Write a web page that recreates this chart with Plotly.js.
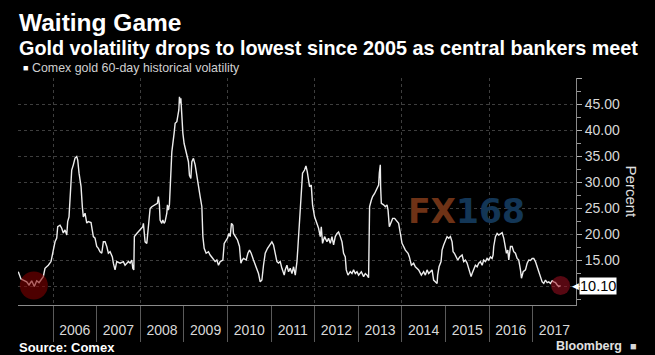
<!DOCTYPE html>
<html><head><meta charset="utf-8">
<script src="https://cdn.plot.ly/plotly-3.0.1.min.js"></script>
<style>html,body{margin:0;padding:0;background:#000;} #chart{width:655px;height:355px;}</style>
</head><body><div id="chart"></div>
<script>
// Comex gold 60-day historical volatility (decimal year, percent)
const years = [
 2005.203,2005.265,2005.318,2005.396,2005.449,2005.511,2005.571,2005.626,2005.679,2005.741,
 2005.777,2005.816,2005.892,2005.954,2006.007,2006.046,2006.085,2006.108,2006.161,2006.2,
 2006.236,2006.275,2006.315,2006.337,2006.367,2006.39,2006.429,2006.466,2006.505,2006.544,
 2006.567,2006.597,2006.643,2006.673,2006.696,2006.735,2006.774,2006.81,2006.872,2006.925,
 2006.964,2007.003,2007.04,2007.079,2007.118,2007.155,2007.194,2007.233,2007.27,2007.309,
 2007.361,2007.384,2007.423,2007.462,2007.538,2007.614,2007.653,2007.729,2007.768,2007.807,
 2007.83,2007.853,2007.866,2007.922,2007.997,2008.059,2008.073,2008.112,2008.151,2008.188,
 2008.211,2008.227,2008.266,2008.342,2008.394,2008.417,2008.44,2008.456,2008.495,2008.518,
 2008.548,2008.571,2008.61,2008.624,2008.647,2008.67,2008.702,2008.725,2008.778,2008.801,
 2008.84,2008.853,2008.886,2008.9,2008.916,2008.932,2008.955,2008.978,2009.007,2009.053,
 2009.083,2009.106,2009.129,2009.161,2009.184,2009.221,2009.26,2009.299,2009.336,2009.375,
 2009.414,2009.437,2009.467,2009.512,2009.565,2009.604,2009.666,2009.719,2009.758,2009.795,
 2009.834,2009.896,2009.926,2009.972,2010.001,2010.034,2010.063,2010.093,2010.125,2010.139,
 2010.178,2010.231,2010.277,2010.309,2010.339,2010.369,2010.431,2010.47,2010.507,2010.545,
 2010.598,2010.66,2010.713,2010.752,2010.791,2010.828,2010.867,2010.92,2010.982,2011.02,
 2011.057,2011.096,2011.135,2011.172,2011.211,2011.25,2011.303,
 2011.326,2011.365,2011.402,2011.441,2011.48,2011.517,2011.556,2011.595,2011.618,2011.647,
 2011.67,2011.693,2011.723,2011.769,2011.801,2011.831,2011.861,2011.884,2011.923,2011.953,
 2011.999,2012.054,2012.091,2012.13,2012.153,2012.182,2012.228,2012.283,2012.32,2012.359,
 2012.398,2012.435,2012.474,2012.513,2012.55,2012.589,2012.628,2012.664,2012.703,2012.726,
 2012.765,2012.818,2012.857,2012.894,2012.933,2012.972,2013.009,2013.071,2013.124,2013.163,2013.202,2013.238,
 2013.261,2013.3,2013.33,2013.376,2013.431,2013.468,2013.484,2013.507,2013.514,2013.53,
 2013.583,2013.622,2013.661,2013.684,2013.714,2013.76,2013.79,2013.835,2013.89,2013.927,2013.966,
 2014.005,2014.042,2014.081,2014.143,2014.173,2014.219,2014.271,2014.31,2014.386,2014.448,
 2014.5,2014.54,2014.579,2014.616,2014.655,2014.694,2014.73,2014.77,2014.809,2014.822,
 2014.854,2014.9,2014.923,2014.96,2014.999,2015.038,2015.075,2015.114,2015.153,2015.176,
 2015.206,2015.252,2015.282,2015.328,2015.383,2015.42,2015.459,2015.497,2015.534,2015.589,
 2015.612,2015.649,2015.688,2015.727,2015.764,2015.803,2015.842,2015.878,2015.917,2015.956,
 2015.993,2016.032,2016.071,2016.094,2016.108,2016.147,2016.186,2016.223,2016.262,2016.301,
 2016.338,2016.377,2016.4,2016.43,2016.453,2016.492,2016.53,2016.567,2016.606,2016.645,
 2016.682,2016.721,2016.744,2016.783,2016.836,2016.875,2016.912,2016.951,2016.99,2017.026,
 2017.065,2017.104,2017.141,2017.18,2017.219,2017.256,2017.295,2017.334,2017.371,2017.41,
 2017.449,2017.486,2017.525,2017.564,2017.601,2017.64
];
const vol = [
 12.75,11.35,11.15,10.8,10.2,11.0,9.9,11.0,10.65,11.5,
 11.8,13.4,14.0,14.7,17.2,18.5,19.2,21.4,21.7,21.1,
 20.2,20.8,19.8,22.4,23.3,27.2,32.3,33.3,34.6,34.9,
 34.2,31.7,29.1,25.2,23.3,24.0,22.1,22.4,22.2,19.5,
 19.2,17.6,17.25,16.6,16.3,18.5,18.5,17.6,16.3,16.6,
 15.6,14.4,13.1,14.7,14.4,14.7,14.0,14.7,14.4,15.0,
 13.4,13.1,19.5,20.1,20.8,21.4,22.05,18.5,18.2,22.05,
 24.9,24.9,25.25,25.6,25.9,27.2,25.6,22.7,22.05,22.7,
 22.05,22.4,24.0,25.6,24.6,25.6,30.4,35.8,39.4,41.3,
 41.6,42.6,43.85,46.4,45.1,46.1,42.6,39.4,37.4,35.8,
 34.9,33.9,31.3,30.7,33.9,34.55,33.3,31.0,29.1,27.2,
 25.25,19.5,17.25,16.3,16.6,15.96,15.3,14.7,15.0,14.0,
 14.7,15.0,18.2,18.85,19.2,20.1,19.5,22.05,21.7,20.1,
 19.5,18.85,17.6,14.4,15.0,15.3,15.0,16.3,16.9,16.3,
 15.0,13.7,12.4,10.8,11.15,14.0,16.3,17.25,18.2,18.5,
 17.9,16.3,14.7,14.4,14.7,13.4,12.1,
 13.1,14.0,12.75,13.4,12.4,13.7,12.1,14.7,17.6,22.05,
 24.6,29.1,31.7,32.3,33.1,32.0,30.4,29.1,29.4,25.6,
 23.3,22.05,21.1,19.5,21.4,18.2,19.5,18.5,19.2,18.2,
 19.5,17.9,19.5,20.1,20.4,19.5,18.5,16.3,15.6,13.1,
 12.1,12.75,12.4,13.1,12.4,12.75,12.1,12.75,11.8,12.4,12.1,11.6,
 25.25,26.5,27.2,27.8,28.8,29.4,31.7,33.3,29.1,25.9,
 25.6,25.25,25.6,24.6,21.4,22.4,23.0,23.0,22.4,22.05,20.1,
 18.2,17.6,16.9,16.3,15.6,14.0,14.4,13.7,13.1,12.1,
 12.75,12.1,13.1,12.4,12.75,13.1,11.15,10.8,10.5,12.1,
 13.7,14.7,16.9,17.9,18.8,19.5,19.2,19.5,18.5,16.6,
 16.3,15.6,15.0,15.6,15.96,14.7,15.0,14.4,13.4,11.8,
 12.4,13.4,14.0,13.7,14.4,14.7,14.0,15.0,14.7,15.3,
 15.0,15.6,15.3,16.0,17.6,19.5,20.1,19.8,20.1,20.25,
 19.2,17.6,16.3,16.9,15.0,17.6,17.6,16.6,16.3,15.3,
 15.0,13.1,11.5,12.75,13.1,14.4,15.0,14.9,15.3,15.3,
 14.7,13.7,12.75,12.1,10.8,10.5,11.15,10.65,10.8,10.5,
 11.0,10.8,10.65,10.2,9.9,10.1
];
const yearLabels = ['2006','2007','2008','2009','2010','2011','2012','2013','2014','2015','2016','2017'];
const highlightX = [2005.56, 2017.64];
const highlightY = [10.1, 10.1];
const yTicks = [10,15,20,25,30,35,40,45,50];

// layout helpers (plot area in pixels: left 18, right 575.6, top 78, bottom 305)
const PL = 18, PR = 575.6, PT = 78, PB = 305;
const px = p => (p - PL) / (PR - PL);
const py = p => (PB - p) / (PB - PT);

const lastVal = vol[vol.length - 1];
const labelPos = yearLabels.map(y => +y + 0.5);
const FONT = 'Liberation Sans, Arial, sans-serif';

const traces = [
  {x: years, y: vol, type: 'scatter', mode: 'lines',
   line: {color: '#ededed', width: 1.4}, hoverinfo: 'skip', showlegend: false},
  {x: highlightX, y: highlightY, type: 'scatter', mode: 'markers', xaxis: 'x2',
   marker: {size: [28, 19], color: ['rgba(135,0,0,0.82)', 'rgba(165,15,35,0.75)'], line: {width: 0}},
   hoverinfo: 'skip', showlegend: false}
];

const layout = {
  width: 655, height: 355,
  paper_bgcolor: '#000', plot_bgcolor: '#000',
  margin: {l: PL, r: 655 - PR, t: PT, b: 355 - PB, pad: 0},
  font: {family: FONT, color: '#d8d8d8', size: 14},
  showlegend: false,
  xaxis: {
    type: 'linear', range: [2005.197, 2017.995],
    tickmode: 'linear', tick0: 2006, dtick: 2, showticklabels: false,
    ticks: 'outside', ticklen: 36, tickcolor: '#5a5a5a', tickwidth: 1,
    showgrid: true, gridcolor: '#3e3e3e', griddash: 'dot', gridwidth: 1,
    showline: true, linecolor: '#8a8a8a', linewidth: 1, zeroline: false,
    minor: {tickmode: 'linear', tick0: 2006, dtick: 1, ticks: 'outside', ticklen: 36,
            tickcolor: '#5a5a5a', showgrid: false},
    fixedrange: true
  },
  xaxis2: {
    overlaying: 'x', matches: 'x', side: 'bottom', anchor: 'y',
    tickmode: 'array', tickvals: labelPos, ticktext: yearLabels,
    ticks: 'outside', ticklen: 12, tickcolor: 'rgba(0,0,0,0)',
    showgrid: false, showline: false, zeroline: false,
    tickfont: {family: FONT, size: 14, color: '#d8d8d8'}
  },
  yaxis: {
    side: 'right', range: [6.35, 50],
    tickmode: 'array', tickvals: yTicks,
    ticktext: yTicks.map(v => (v === 10 || v === 50) ? '' : v.toFixed(2)),
    ticks: 'outside', ticklen: 5, tickcolor: '#b0b0b0',
    showgrid: true, gridcolor: '#3e3e3e', griddash: 'dot', gridwidth: 1,
    showline: true, linecolor: '#8a8a8a', linewidth: 1, zeroline: false,
    minor: {tickmode: 'linear', tick0: 0, dtick: 2.5, ticks: 'outside', ticklen: 4,
            tickcolor: '#9a9a9a', showgrid: false},
    tickfont: {family: FONT, size: 14, color: '#d8d8d8'},
    fixedrange: true
  },
  annotations: [
    {text: '<b>Waiting Game</b>', xref: 'paper', yref: 'paper', x: px(17), y: py(22),
     xanchor: 'left', yanchor: 'middle', showarrow: false,
     font: {family: FONT, size: 24.5, color: '#ffffff'}},
    {text: '<b>Gold volatility drops to lowest since 2005 as central bankers meet</b>',
     xref: 'paper', yref: 'paper', x: px(17), y: py(48), xanchor: 'left', yanchor: 'middle',
     showarrow: false, font: {family: FONT, size: 19.8, color: '#ffffff'}},
    {text: '■', xref: 'paper', yref: 'paper', x: px(21), y: py(68), xanchor: 'left', yanchor: 'middle',
     showarrow: false, font: {family: FONT, size: 9, color: '#ffffff'}},
    {text: 'Comex gold 60-day historical volatility', xref: 'paper', yref: 'paper', x: px(30), y: py(68),
     xanchor: 'left', yanchor: 'middle', showarrow: false,
     font: {family: FONT, size: 12.4, color: '#d0d0d0'}},
    {text: '<b>Source: Comex</b>', xref: 'paper', yref: 'paper', x: px(17), y: py(347),
     xanchor: 'left', yanchor: 'middle', showarrow: false,
     font: {family: FONT, size: 13, color: '#ffffff'}},
    {text: '<b>Bloomberg</b>', xref: 'paper', yref: 'paper', x: px(624), y: py(346),
     xanchor: 'right', yanchor: 'middle', showarrow: false,
     font: {family: FONT, size: 12.5, color: '#e0e0e0'}},
    {text: '■', xref: 'paper', yref: 'paper', x: px(628), y: py(346),
     xanchor: 'left', yanchor: 'middle', showarrow: false,
     font: {family: FONT, size: 11, color: '#d8d8d8'}},
    {text: 'Percent', xref: 'paper', yref: 'paper', x: px(632), y: py(192),
     xanchor: 'center', yanchor: 'middle', textangle: 90, showarrow: false,
     font: {family: FONT, size: 15, color: '#e0e0e0'}},
    {text: '◀', xref: 'paper', yref: 'y', x: px(581), y: lastVal,
     xanchor: 'right', yanchor: 'middle', showarrow: false,
     font: {family: 'DejaVu Sans', size: 9, color: '#ffffff'}},
    {text: lastVal.toFixed(2), xref: 'paper', yref: 'y', x: px(579), y: lastVal,
     xanchor: 'left', yanchor: 'middle', showarrow: false, bgcolor: '#ffffff', borderpad: 0,
     font: {family: FONT, size: 14.5, color: '#000000'}},
    {text: '<span style="color:#6e3216">FX</span><span style="color:#133656">168</span>',
     xref: 'paper', yref: 'paper', x: px(466), y: py(212), xanchor: 'center', yanchor: 'middle',
     showarrow: false, font: {family: 'DejaVu Sans', size: 33, weight: 'bold'}}
  ]
};

Plotly.newPlot('chart', traces, layout, {staticPlot: true, displayModeBar: false});
</script>
</body></html>
